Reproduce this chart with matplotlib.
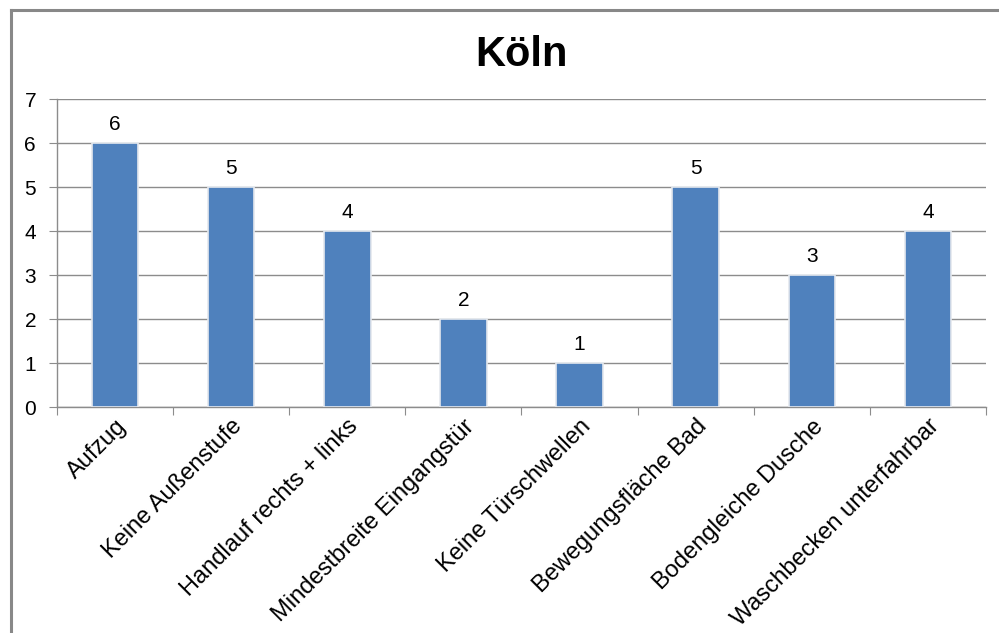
import matplotlib.pyplot as plt
from matplotlib.lines import Line2D
import numpy as np

plt.rcParams['font.family'] = ['Liberation Sans', 'DejaVu Sans']

categories = ['Aufzug', 'Keine Außenstufe', 'Handlauf rechts + links',
              'Mindestbreite Eingangstür', 'Keine Türschwellen',
              'Bewegungsfläche Bad', 'Bodengleiche Dusche',
              'Waschbecken unterfahrbar']
values = [6, 5, 4, 2, 1, 5, 3, 4]

bar_color = '#4F81BD'
grid_color = '#8C8C8C'

fig = plt.figure(figsize=(9.99, 6.33), dpi=100)
ax = fig.add_axes([0.057, 0.357, 0.93, 0.4865])

x = np.arange(len(categories))
bars = ax.bar(x, values, width=0.4, color=bar_color,
              edgecolor='#E4E8EE', linewidth=1.2, zorder=3)

for rect, v in zip(bars, values):
    ax.text(rect.get_x() + rect.get_width() / 2, v + 0.2, str(v),
            ha='center', va='bottom', fontsize=15, zorder=4)

ax.set_xlim(-0.5, len(categories) - 0.5)
ax.set_ylim(0, 7)
ax.set_yticks(range(8))
ax.yaxis.grid(True, color=grid_color, linewidth=1, zorder=0)
ax.set_axisbelow(True)

# ticks between categories, labels under each bar
ax.set_xticks(np.arange(len(categories) + 1) - 0.5)
ax.set_xticklabels([])
ax.set_xticks(x, minor=True)
ax.set_xticklabels(categories, minor=True, rotation=45, ha='right',
                   rotation_mode='anchor', fontsize=17)
ax.tick_params(axis='x', which='minor', length=0, pad=6)
ax.tick_params(axis='x', which='major', length=6, color=grid_color)
ax.tick_params(axis='y', length=6, color=grid_color, labelsize=15, pad=9)

for side in ['top', 'right']:
    ax.spines[side].set_visible(False)
for side in ['left', 'bottom']:
    ax.spines[side].set_color(grid_color)
    ax.spines[side].set_linewidth(1)

ax.set_title('Köln', fontsize=30, fontweight='bold', pad=24)

# chart frame
fig.add_artist(Line2D([0.011, 1.0], [0.984, 0.984], transform=fig.transFigure,
                      color='#888888', linewidth=2.2))
fig.add_artist(Line2D([0.011, 0.011], [0.0, 0.984], transform=fig.transFigure,
                      color='#888888', linewidth=2.2))

fig.savefig('out.png', dpi=100)
